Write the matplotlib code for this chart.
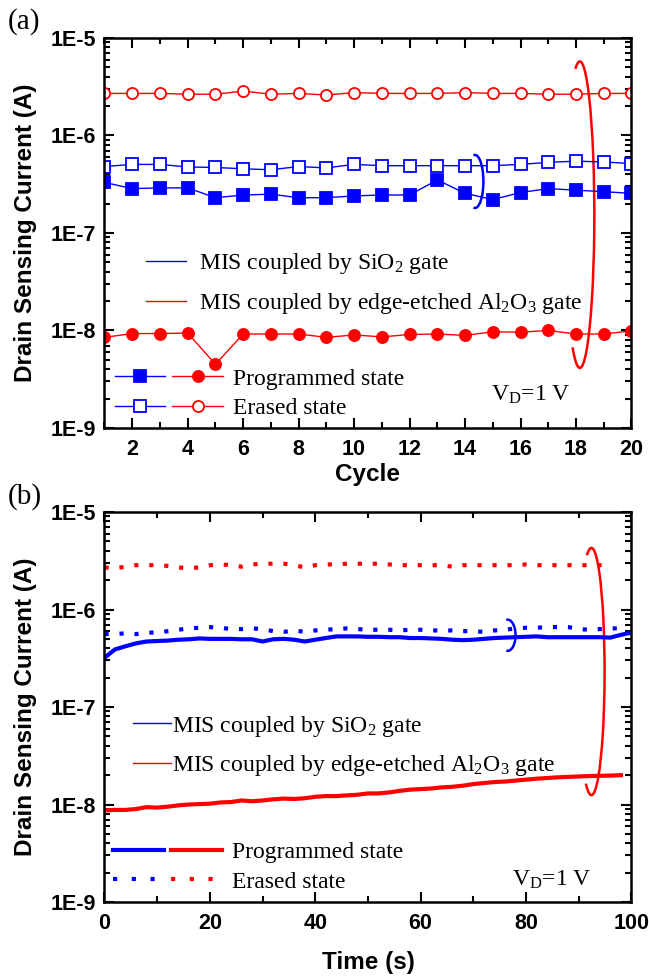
import numpy as np
import matplotlib
matplotlib.use("Agg")
import matplotlib.pyplot as plt
from matplotlib.lines import Line2D
from matplotlib.patches import Arc
from matplotlib.legend_handler import HandlerTuple
from matplotlib.ticker import FixedLocator, FixedFormatter, MultipleLocator, LogLocator, NullFormatter

plt.rcParams['mathtext.fontset'] = 'custom'
plt.rcParams['mathtext.rm'] = 'Liberation Serif'
plt.rcParams['mathtext.it'] = 'Liberation Serif:italic'

SANS = 'Liberation Sans'
SERIF = 'Liberation Serif'
BLUE = '#0000ff'
RED = '#ff0000'

# (a) endurance: current per program/erase cycle
cycles = [1, 2, 3, 4, 5, 6, 7, 8, 9, 10, 11, 12, 13, 14, 15, 16, 17, 18, 19, 20]
sio2_prog = [3.3e-7, 2.85e-7, 2.9e-7, 2.9e-7, 2.3e-7, 2.45e-7, 2.5e-7, 2.3e-7, 2.3e-7, 2.4e-7,
             2.45e-7, 2.45e-7, 3.5e-7, 2.55e-7, 2.2e-7, 2.6e-7, 2.85e-7, 2.75e-7, 2.65e-7, 2.55e-7]
sio2_erase = [4.8e-7, 5.05e-7, 5.05e-7, 4.75e-7, 4.7e-7, 4.55e-7, 4.45e-7, 4.8e-7, 4.65e-7, 5.05e-7,
              4.9e-7, 4.9e-7, 4.9e-7, 4.9e-7, 4.9e-7, 5.05e-7, 5.3e-7, 5.45e-7, 5.35e-7, 5.15e-7]
al2o3_prog = [8.5e-9, 9.3e-9, 9.3e-9, 9.4e-9, 4.5e-9, 9.2e-9, 9.2e-9, 9.2e-9, 8.5e-9, 9.0e-9,
              8.6e-9, 9.1e-9, 9.2e-9, 8.9e-9, 9.7e-9, 9.6e-9, 1.0e-8, 9.2e-9, 9.2e-9, 9.9e-9]
al2o3_erase = [2.7e-6, 2.7e-6, 2.7e-6, 2.65e-6, 2.65e-6, 2.85e-6, 2.65e-6, 2.7e-6, 2.6e-6, 2.75e-6,
               2.7e-6, 2.7e-6, 2.7e-6, 2.75e-6, 2.7e-6, 2.7e-6, 2.65e-6, 2.65e-6, 2.7e-6, 2.7e-6]

# (b) retention: current vs time
time_s = [0, 2, 4, 6, 8, 10, 12, 14, 16, 18, 20, 22, 24, 26, 28, 30, 32, 34, 36, 38, 40,
          42, 44, 46, 48, 50, 52, 54, 56, 58, 60, 62, 64, 66, 68, 70, 72, 74, 76, 78, 80,
          82, 84, 86, 88, 90, 92, 94, 96, 98, 100]
sio2_prog_t = [3.2e-7, 3.9e-7, 4.2e-7, 4.5e-7, 4.7e-7, 4.75e-7, 4.8e-7, 4.9e-7, 4.95e-7, 5.05e-7,
               5.0e-7, 5.0e-7, 5.0e-7, 4.95e-7, 4.95e-7, 4.7e-7, 4.95e-7, 5.0e-7, 4.9e-7, 4.7e-7,
               4.9e-7, 5.1e-7, 5.3e-7, 5.3e-7, 5.3e-7, 5.25e-7, 5.25e-7, 5.2e-7, 5.2e-7, 5.1e-7,
               5.1e-7, 5.05e-7, 5.0e-7, 4.9e-7, 4.85e-7, 4.9e-7, 5.0e-7, 5.1e-7, 5.15e-7, 5.2e-7,
               5.25e-7, 5.3e-7, 5.2e-7, 5.2e-7, 5.2e-7, 5.2e-7, 5.2e-7, 5.2e-7, 5.15e-7, 5.5e-7,
               5.8e-7]
sio2_erase_t = [5.6e-7, 5.6e-7, 5.7e-7, 5.6e-7, 5.8e-7, 5.8e-7, 6.0e-7, 6.2e-7, 6.4e-7, 6.5e-7,
                6.6e-7, 6.5e-7, 6.3e-7, 6.3e-7, 6.4e-7, 6.3e-7, 6.0e-7, 5.9e-7, 6.1e-7, 5.9e-7,
                6.1e-7, 6.2e-7, 6.3e-7, 6.4e-7, 6.3e-7, 6.2e-7, 6.2e-7, 6.2e-7, 6.1e-7, 6.2e-7,
                6.2e-7, 6.1e-7, 6.1e-7, 6.1e-7, 6.0e-7, 6.0e-7, 5.9e-7, 6.1e-7, 6.2e-7, 6.4e-7,
                6.5e-7, 6.5e-7, 6.6e-7, 6.6e-7, 6.6e-7, 6.3e-7, 6.2e-7, 6.3e-7, 6.4e-7, 6.4e-7]
al2o3_prog_t = [8.7e-9, 8.8e-9, 8.8e-9, 9.0e-9, 9.4e-9, 9.3e-9, 9.5e-9, 9.8e-9, 1.0e-8, 1.01e-8,
                1.02e-8, 1.05e-8, 1.06e-8, 1.1e-8, 1.08e-8, 1.1e-8, 1.13e-8, 1.15e-8, 1.14e-8, 1.16e-8,
                1.2e-8, 1.22e-8, 1.22e-8, 1.24e-8, 1.26e-8, 1.3e-8, 1.3e-8, 1.33e-8, 1.38e-8, 1.42e-8,
                1.44e-8, 1.46e-8, 1.5e-8, 1.52e-8, 1.56e-8, 1.62e-8, 1.66e-8, 1.7e-8, 1.72e-8, 1.76e-8,
                1.8e-8, 1.84e-8, 1.87e-8, 1.9e-8, 1.92e-8, 1.94e-8, 1.96e-8, 1.97e-8, 1.98e-8, 2.0e-8]
al2o3_erase_t = [2.7e-6, 2.65e-6, 2.75e-6, 2.85e-6, 2.85e-6, 2.85e-6, 2.8e-6, 2.7e-6, 2.65e-6, 2.7e-6,
                 2.85e-6, 2.9e-6, 2.85e-6, 2.75e-6, 2.9e-6, 2.95e-6, 2.95e-6, 2.95e-6, 2.85e-6, 2.7e-6,
                 2.85e-6, 2.9e-6, 2.9e-6, 2.95e-6, 2.95e-6, 2.95e-6, 2.95e-6, 2.9e-6, 2.85e-6, 2.85e-6,
                 2.85e-6, 2.85e-6, 2.85e-6, 2.75e-6, 2.85e-6, 2.85e-6, 2.85e-6, 2.85e-6, 2.85e-6, 2.85e-6,
                 2.9e-6, 2.85e-6, 2.85e-6, 2.85e-6, 2.85e-6, 2.85e-6, 2.85e-6, 2.85e-6, 2.85e-6]

ytick_vals = [1e-9, 1e-8, 1e-7, 1e-6, 1e-5]
ytick_text = ['1E-9', '1E-8', '1E-7', '1E-6', '1E-5']


def style_axes(ax):
    ax.set_yscale('log')
    ax.set_ylim(1e-9, 1e-5)
    ax.yaxis.set_major_locator(FixedLocator(ytick_vals))
    ax.yaxis.set_major_formatter(FixedFormatter(ytick_text))
    ax.yaxis.set_minor_locator(LogLocator(base=10, subs=np.arange(2, 10)))
    ax.yaxis.set_minor_formatter(NullFormatter())
    ax.tick_params(which='both', direction='in', top=True, right=True, width=1.5)
    ax.tick_params(which='major', length=7, pad=6)
    ax.tick_params(which='minor', length=4)
    ax.tick_params(axis='x', which='major', pad=8)
    for s in ax.spines.values():
        s.set_linewidth(1.8)
    for lab in ax.get_xticklabels() + ax.get_yticklabels():
        lab.set_fontfamily(SANS)
        lab.set_fontweight('bold')
        lab.set_fontsize(15.5)
    ax.set_ylabel('Drain Sensing Current (A)', fontfamily=SANS, fontweight='bold', fontsize=17.5)
    ax.yaxis.set_label_coords(-0.128, 0.5)


def loop(ax, xc, yc, w, h, color, t1, t2, lw=1.8):
    # Arc takes polar angles; convert from the ellipse parameter angle
    def polar(t):
        t = np.deg2rad(t)
        return np.rad2deg(np.arctan2(h * np.sin(t), w * np.cos(t)))
    ax.add_patch(Arc((xc, yc), w, h, theta1=polar(t1), theta2=polar(t2),
                     transform=ax.transAxes, color=color, lw=lw, clip_on=False))


fig = plt.figure(figsize=(6.49, 9.76), dpi=100)
ax1 = fig.add_axes([0.1610, 0.5615, 0.8120, 0.3996])
ax2 = fig.add_axes([0.1610, 0.0758, 0.8120, 0.3996])

# ---- (a) cycling ----
mk = dict(markersize=8, markeredgewidth=1.3, lw=1.0)
ax1.plot(cycles, sio2_prog, color=BLUE, marker='s', mfc=BLUE, **mk)
ax1.plot(cycles, sio2_erase, color=BLUE, marker='s', mfc='white', **mk)
ax1.plot(cycles, al2o3_prog, color=RED, marker='o', mfc=RED, **mk)
ax1.plot(cycles, al2o3_erase, color=RED, marker='o', mfc='white', **mk)
ax1.set_xlim(1, 20)
ax1.xaxis.set_major_locator(FixedLocator([2, 4, 6, 8, 10, 12, 14, 16, 18, 20]))
ax1.xaxis.set_minor_locator(MultipleLocator(1))
style_axes(ax1)
ax1.set_xlabel('Cycle', fontfamily=SANS, fontweight='bold', fontsize=17.5, labelpad=2)

loop(ax1, 0.902, 0.547, 0.055, 0.786, RED, 240, 108)
loop(ax1, 0.703, 0.632, 0.032, 0.136, BLUE, -100, 100)

# ---- (b) retention ----
ax2.plot(time_s[:len(sio2_prog_t)], sio2_prog_t, color=BLUE, lw=3)
ax2.plot(time_s[:len(sio2_erase_t)], sio2_erase_t, color=BLUE, lw=3, ls=(0, (1, 2.6)))
ax2.plot(time_s[:len(al2o3_prog_t)], al2o3_prog_t, color=RED, lw=3)
ax2.plot(time_s[:len(al2o3_erase_t)], al2o3_erase_t, color=RED, lw=3, ls=(0, (1, 2.6)))
ax2.set_xlim(0, 100)
ax2.xaxis.set_major_locator(MultipleLocator(20))
ax2.xaxis.set_minor_locator(MultipleLocator(10))
style_axes(ax2)
ax2.set_xlabel('Time (s)', fontfamily=SANS, fontweight='bold', fontsize=17.5, labelpad=12)

loop(ax2, 0.924, 0.591, 0.05, 0.634, RED, 245, 110)
loop(ax2, 0.765, 0.684, 0.03, 0.08, BLUE, -100, 100)

legfont = {'family': SERIF, 'size': 17}

# device legends
dev_labels = ['MIS coupled by SiO$_2$ gate', 'MIS coupled by edge-etched Al$_2$O$_3$ gate']
for ax, anchor, hl, pad in [(ax1, (0.078, 0.37), 1.7, 0.55), (ax2, (0.054, 0.40), 1.6, 0.05)]:
    handles = [Line2D([], [], color=BLUE, lw=1.0), Line2D([], [], color=RED, lw=1.0)]
    leg = ax.legend(handles, dev_labels, loc='center left', bbox_to_anchor=anchor,
                    frameon=False, prop=legfont, handlelength=hl, handletextpad=pad,
                    labelspacing=0.62, borderpad=0, borderaxespad=0)
    ax.add_artist(leg)

# state legends
prog_a = (Line2D([], [], color=BLUE, marker='s', mfc=BLUE, **mk),
          Line2D([], [], color=RED, marker='o', mfc=RED, **mk))
erase_a = (Line2D([], [], color=BLUE, marker='s', mfc='white', **mk),
           Line2D([], [], color=RED, marker='o', mfc='white', **mk))
ax1.legend([prog_a, erase_a], ['Programmed state', 'Erased state'], loc='center left',
           bbox_to_anchor=(0.019, 0.088), frameon=False, prop=legfont, handlelength=4.6,
           handletextpad=0.4, labelspacing=0.35, borderpad=0, borderaxespad=0,
           handler_map={tuple: HandlerTuple(ndivide=None, pad=0.3)})

prog_b = (Line2D([], [], color=BLUE, lw=3), Line2D([], [], color=RED, lw=3))
erase_b = (Line2D([], [], color=BLUE, lw=3, ls=(0, (1, 3.5))),
           Line2D([], [], color=RED, lw=3, ls=(0, (1, 3.5))))
ax2.legend([prog_b, erase_b], ['Programmed state', 'Erased state'], loc='center left',
           bbox_to_anchor=(0.017, 0.09), frameon=False, prop=legfont, handlelength=4.6,
           handletextpad=0.4, labelspacing=0.35, borderpad=0, borderaxespad=0,
           handler_map={tuple: HandlerTuple(ndivide=None, pad=0.3)})

ax1.text(0.734, 0.085, 'V$_\\mathrm{D}$=1 V', transform=ax1.transAxes, fontdict=legfont, va='center')
ax2.text(0.774, 0.058, 'V$_\\mathrm{D}$=1 V', transform=ax2.transAxes, fontdict=legfont, va='center')

fig.text(0.012, 0.978, '(a)', fontfamily=SERIF, fontsize=21, va='center')
fig.text(0.012, 0.491, '(b)', fontfamily=SERIF, fontsize=21, va='center')

fig.savefig('out.png', dpi=100)
